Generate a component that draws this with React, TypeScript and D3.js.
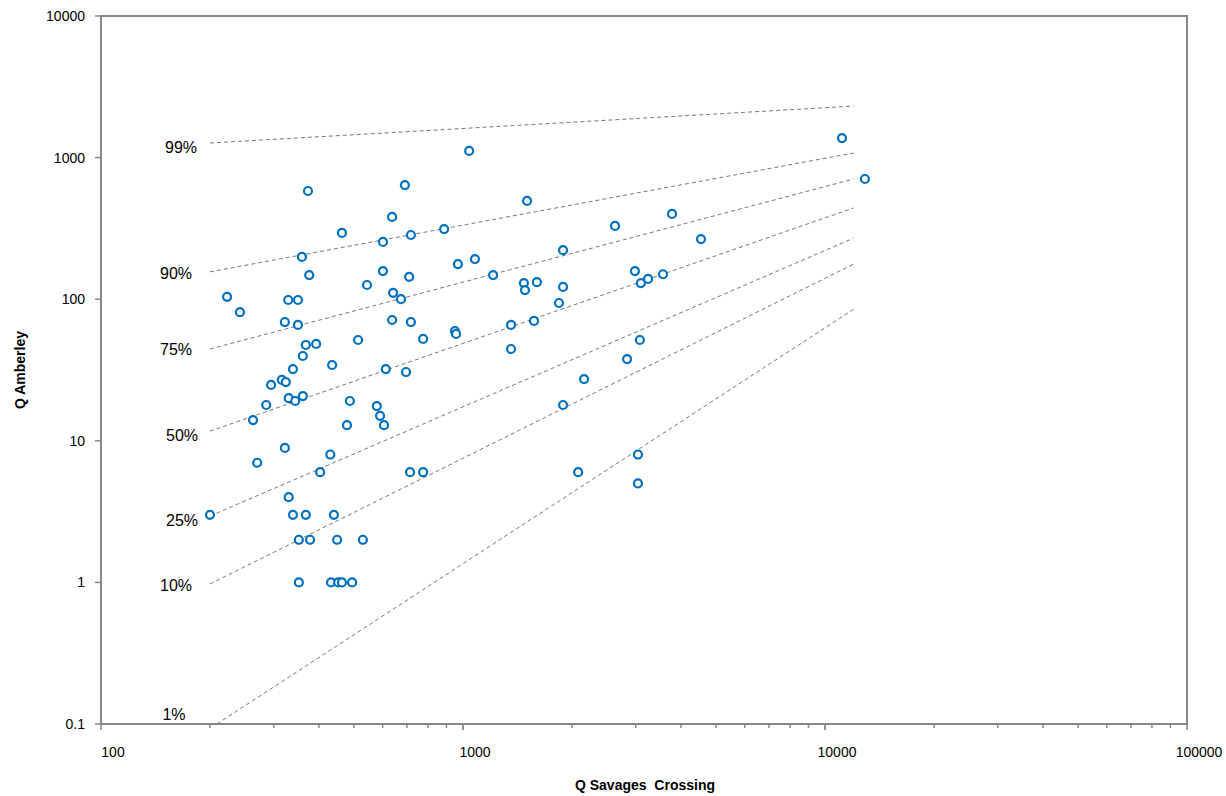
import { useEffect, useRef } from 'react';
import * as d3 from 'd3';

// Savages Crossing flow (x) vs Amberley flow (y)
const qSavages = [
  200, 223, 242, 263, 270, 286, 295, 316, 324, 322, 322, 329, 330, 330, 339, 339, 344, 350, 350, 352,
  352, 359, 361, 361, 368, 368, 376, 373, 378, 393, 403, 430, 435, 432, 440, 449, 452, 463, 463, 478,
  487, 494, 513, 529, 543, 578, 590, 601, 601, 605, 612, 637, 641, 637, 674, 691, 696, 710, 714, 718,
  718, 776, 776, 887, 950, 957, 968, 1040, 1079, 1211, 1357, 1357, 1473, 1483, 1503, 1571, 1600, 1841, 1890, 1890,
  1890, 2080, 2160, 2630, 2840, 2985, 3043, 3043, 3080, 3100, 3245, 3568, 3780, 4543, 11140, 12890,
];
const qAmberley = [
  3, 104, 81, 14, 7, 17.9, 24.8, 26.9, 26, 69, 8.9, 98.7, 20, 4, 32.1, 3, 19.1, 98.7, 65.8, 2,
  1, 199, 20.7, 39.7, 47.5, 3, 148, 581, 2, 48.3, 6, 8, 34.3, 1, 3, 2, 1, 294, 1, 12.9,
  19.1, 1, 51.5, 2, 126, 17.6, 15, 254, 158, 12.9, 32.1, 381, 111, 71.3, 100, 640, 30.6, 144, 6, 284,
  69, 6, 52.4, 313, 59.6, 56.8, 177, 1114, 192, 148, 65.8, 44.5, 130, 116, 494, 70.2, 132, 94, 222, 122,
  17.9, 6, 27.3, 329, 37.8, 158, 5, 8, 51.5, 130, 139, 150, 400, 266, 1374, 706,
];

// percentile lines
const pctLabels = ['99%', '90%', '75%', '50%', '25%', '10%', '1%'];
const pctX0 = [200, 200, 200, 200, 200, 200, 209];
const pctY0 = [1268, 156, 44.5, 11.7, 2.94, 0.975, 0.1];
const pctX1 = [12000, 12000, 12000, 12000, 12000, 12000, 12000];
const pctY1 = [2312, 1078, 706, 441, 270, 177, 85];
const pctLabelX = [181, 176, 176, 182, 182, 176, 174];
const pctLabelY = [147, 273, 349, 435, 520, 585, 714];

const xTicks = [100, 1000, 10000, 100000];
const yTicks = [0.1, 1, 10, 100, 1000, 10000];

export default function App() {
  const svgRef = useRef<SVGSVGElement>(null);

  useEffect(() => {
    const svg = d3.select(svgRef.current);
    svg.selectAll('*').remove();
    const font = 'Liberation Sans, Arial, sans-serif';
    const L = 101, R = 1187, T = 16, B = 724;
    const x = d3.scaleLog().domain([100, 100000]).range([L, R]);
    const y = d3.scaleLog().domain([0.1, 10000]).range([B, T]);
    const axisColor = '#888';

    // frame
    svg.append('rect').attr('x', L).attr('y', T).attr('width', R - L).attr('height', B - T)
      .attr('fill', 'none').attr('stroke', axisColor).attr('stroke-width', 2);

    // x minor/major ticks
    const xt: number[] = [];
    for (let d = 100; d < 100000; d *= 10) for (let k = 1; k <= 10; k++) xt.push(d * k);
    svg.append('g').selectAll('line').data(xt).join('line')
      .attr('x1', (d) => x(d)).attr('x2', (d) => x(d)).attr('y1', B).attr('y2', (d) => (Math.log10(d) % 1 === 0 ? B + 6 : B + 4))
      .attr('stroke', axisColor).attr('stroke-width', 1.5);
    svg.append('g').selectAll('text').data(xTicks).join('text')
      .attr('x', (d) => x(d) + 12).attr('y', B + 33).attr('text-anchor', 'middle')
      .attr('font-family', font).attr('font-size', 14).text((d) => String(d));

    svg.append('g').selectAll('line').data(yTicks).join('line')
      .attr('x1', L - 6).attr('x2', L).attr('y1', (d) => y(d)).attr('y2', (d) => y(d))
      .attr('stroke', axisColor).attr('stroke-width', 1.5);
    svg.append('g').selectAll('text').data(yTicks).join('text')
      .attr('x', L - 16).attr('y', (d) => y(d) + 5).attr('text-anchor', 'end')
      .attr('font-family', font).attr('font-size', 14).text((d) => String(d));

    // percentile lines
    const g = svg.append('g');
    pctLabels.forEach((lab, i) => {
      g.append('line')
        .attr('x1', x(pctX0[i])).attr('y1', y(pctY0[i]))
        .attr('x2', x(pctX1[i])).attr('y2', y(pctY1[i]))
        .attr('stroke', '#777').attr('stroke-width', 1).attr('stroke-dasharray', '4,3');
      g.append('text').attr('x', pctLabelX[i]).attr('y', pctLabelY[i] + 6).attr('text-anchor', 'middle')
        .attr('font-family', font).attr('font-size', 16).text(lab);
    });

    // points
    svg.append('g').selectAll('circle').data(qSavages.map((v, i) => [v, qAmberley[i]])).join('circle')
      .attr('cx', (d) => x(d[0])).attr('cy', (d) => y(d[1])).attr('r', 4)
      .attr('fill', '#fff').attr('stroke', '#0070c0').attr('stroke-width', 2.2);

    svg.append('text').attr('x', 645).attr('y', 790).attr('text-anchor', 'middle')
      .attr('font-family', font).attr('font-size', 14).attr('font-weight', 'bold').text('Q Savages\u00a0 Crossing');
    svg.append('text').attr('transform', 'translate(25,370) rotate(-90)').attr('text-anchor', 'middle')
      .attr('font-family', font).attr('font-size', 14).attr('font-weight', 'bold').text('Q Amberley');
  }, []);

  return (
    <svg ref={svgRef} width={1226} height={796}
      style={{ position: 'absolute', left: 0, top: 0, background: '#fff' }} />
  );
}
